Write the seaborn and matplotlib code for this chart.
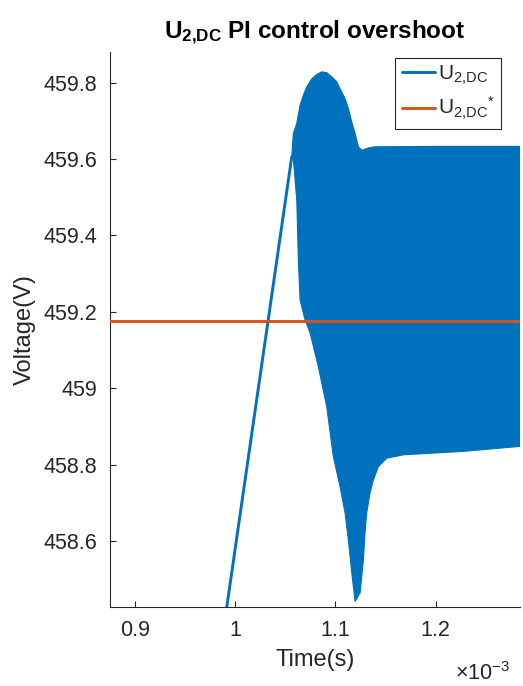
import numpy as np
import matplotlib
matplotlib.use("Agg")
import matplotlib.pyplot as plt
from matplotlib.ticker import FuncFormatter
import seaborn as sns

# ---- data (time in seconds, voltage in volts) ----
ramp_t = [0.9900e-3, 1.0564e-3]
ramp_v = [458.400, 459.606]

# upper envelope of the switching ripple after the ramp
upper_t = [1.0564e-3, 1.0580e-3, 1.0614e-3, 1.0647e-3, 1.0680e-3, 1.0714e-3,
           1.0764e-3, 1.0813e-3, 1.0863e-3, 1.0913e-3, 1.0963e-3, 1.1013e-3,
           1.1046e-3, 1.1096e-3, 1.1129e-3, 1.1163e-3, 1.1196e-3, 1.1229e-3,
           1.1263e-3, 1.1329e-3, 1.1395e-3, 1.2000e-3, 1.2842e-3]
upper_v = [459.606, 459.667, 459.693, 459.741, 459.767, 459.789,
           459.810, 459.821, 459.828, 459.826, 459.815, 459.802,
           459.784, 459.758, 459.732, 459.697, 459.667, 459.632,
           459.623, 459.629, 459.632, 459.633, 459.633]

# lower envelope of the switching ripple
lower_t = [1.0564e-3, 1.0580e-3, 1.0614e-3, 1.0630e-3, 1.0647e-3, 1.0697e-3,
           1.0747e-3, 1.0829e-3, 1.0913e-3, 1.0979e-3, 1.1046e-3, 1.1096e-3,
           1.1129e-3, 1.1163e-3, 1.1196e-3, 1.1246e-3, 1.1279e-3, 1.1295e-3,
           1.1312e-3, 1.1345e-3, 1.1378e-3, 1.1428e-3, 1.1512e-3, 1.1678e-3,
           1.1944e-3, 1.2277e-3, 1.2842e-3]
lower_v = [459.606, 459.600, 459.493, 459.336, 459.231, 459.179,
           459.145, 459.057, 458.952, 458.821, 458.743, 458.674,
           458.603, 458.517, 458.442, 458.465, 458.551, 458.622,
           458.674, 458.726, 458.760, 458.795, 458.817, 458.826,
           458.830, 458.835, 458.848]

ref_t = [0.8750e-3, 1.2842e-3]
ref_v = [459.177, 459.177]

x_ticks_ms = [0.9, 1.0, 1.1, 1.2]
y_ticks = [458.6, 458.8, 459.0, 459.2, 459.4, 459.6, 459.8]

BLUE = "#0072BD"
ORANGE = "#D95319"
DARK = "#262626"

sns.set_theme(style="white")
plt.rcParams["font.family"] = ["Liberation Sans", "DejaVu Sans"]
plt.rcParams["mathtext.fontset"] = "custom"
plt.rcParams["mathtext.rm"] = "Liberation Sans"
plt.rcParams["mathtext.it"] = "Liberation Sans:italic"
plt.rcParams["mathtext.bf"] = "Liberation Sans:bold"

fig = plt.figure(figsize=(5.23, 6.86), dpi=100)
ax = fig.add_axes([110 / 523, 1 - 607.3 / 686, 410 / 523, 555.3 / 686])

# ripple band
poly_t = np.concatenate([upper_t, lower_t[::-1]])
poly_v = np.concatenate([upper_v, lower_v[::-1]])
ax.fill(poly_t, poly_v, color=BLUE, lw=0.8, zorder=2)

sns.lineplot(x=ramp_t, y=ramp_v, ax=ax, color=BLUE, lw=2.1,
             label=r"$\mathregular{U_{2{,}DC}}$", zorder=3)
sns.lineplot(x=ref_t, y=ref_v, ax=ax, color=ORANGE, lw=2.1,
             label=r"$\mathregular{U_{2{,}DC}{}^{*}}$", zorder=4)

ax.set_xlim(0.8750e-3, 1.2842e-3)
ax.set_ylim(458.427, 459.880)
ax.set_xticks([v * 1e-3 for v in x_ticks_ms])
ax.set_yticks(y_ticks)
ax.xaxis.set_major_formatter(FuncFormatter(lambda v, p: f"{v * 1e3:g}"))
ax.yaxis.set_major_formatter(FuncFormatter(lambda v, p: f"{v:g}"))

for side in ("top", "right"):
    ax.spines[side].set_visible(False)
for side in ("left", "bottom"):
    ax.spines[side].set_color(DARK)
    ax.spines[side].set_linewidth(0.8)
ax.tick_params(direction="in", length=4, width=0.8, colors=DARK,
               labelsize=15.5, pad=9, bottom=True, left=True)

ax.set_xlabel("Time(s)", fontsize=17, color=DARK, labelpad=6)
ax.set_ylabel("Voltage(V)", fontsize=17, color=DARK, labelpad=6)
ax.text(0.977, -0.098, r"$\times\mathregular{10^{-3}}$", transform=ax.transAxes,
        ha="right", va="top", fontsize=15.5, color=DARK)

ax.set_title(r"$\mathbf{U_{2{,}DC}}$ PI control overshoot", fontsize=17.5,
             fontweight="bold", color="black", pad=10)

leg = ax.legend(loc="upper right", bbox_to_anchor=(0.954, 0.99),
                borderaxespad=0, fontsize=15, frameon=True, fancybox=False,
                framealpha=1, edgecolor=DARK, handlelength=1.6,
                handletextpad=0.15, labelspacing=0.4, borderpad=0.3)
leg.get_frame().set_linewidth(0.8)
for txt in leg.get_texts():
    txt.set_color(DARK)

fig.savefig("out.png", dpi=100)
